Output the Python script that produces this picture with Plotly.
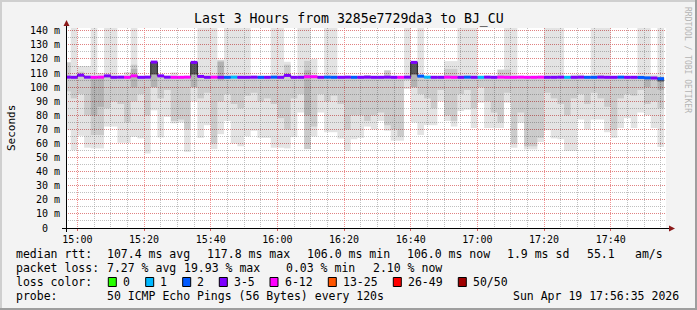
import numpy as np
import pandas as pd
import plotly.graph_objects as go

# ---------------- data ----------------
step_start = "2026-04-19 14:56:00"
view_start = "2026-04-19 14:56:35"
view_end = "2026-04-19 17:56:35"
n_cols = 90

median = [107.1, 107.0, 108.5, 107.1, 107.0, 107.1, 108.0, 107.0, 107.1, 107.0,
          108.0, 107.0, 107.1, 117.8, 108.0, 107.1, 107.0, 107.0, 107.1, 117.6,
          107.6, 107.0, 107.1, 107.0, 107.0, 107.1, 107.0, 107.0, 107.1, 107.0,
          107.0, 107.1, 107.0, 108.3, 107.0, 107.0, 107.4, 107.4, 107.0, 107.1,
          107.0, 107.0, 107.1, 107.0, 107.0, 107.1, 107.0, 107.0, 107.1, 107.0,
          107.0, 107.1, 117.6, 107.8, 107.1, 107.0, 107.0, 107.1, 107.0, 107.0,
          107.1, 107.0, 107.0, 107.1, 107.0, 107.1, 107.0, 107.0, 107.1, 107.0,
          107.0, 107.1, 107.0, 107.0, 107.1, 107.0, 107.0, 107.1, 107.0, 107.0,
          107.1, 107.0, 107.0, 107.1, 107.0, 107.0, 106.9, 106.6, 106.5, 106.0]

loss_class = [3, 3, 3, 3, 4, 4, 3, 3, 3, 4,
              4, 3, 3, 3, 3, 3, 4, 4, 4, 3,
              3, 3, 4, 3, 2, 1, 3, 3, 3, 2,
              3, 2, 3, 3, 3, 3, 4, 4, 3, 2,
              2, 3, 3, 2, 3, 3, 3, 3, 3, 3,
              4, 3, 3, 2, 1, 3, 3, 4, 4, 3,
              2, 3, 1, 3, 3, 4, 4, 4, 4, 4,
              4, 4, 3, 3, 3, 1, 3, 3, 2, 2,
              3, 3, 3, 2, 3, 3, 2, 2, 3, 2]

smoke_hi = [117.7, 145, 115, 115, 145, 110, 145, 145, 108, 110.8,
            145, 108, 108, 118.5, 109, 108, 110.5, 108, 108, 118.3,
            145, 145, 145, 119.5, 145, 145, 145, 145, 108, 108,
            108, 145, 145, 118, 108, 145, 145, 120, 108, 145,
            145, 108, 108, 108, 108, 108.5, 108, 108, 112, 108,
            108, 145, 118.2, 145, 108, 108, 108, 118.5, 118.5, 145,
            145, 145, 108, 108, 108, 112.5, 145, 145, 108, 108,
            108, 108, 145, 145, 145, 108, 109, 109, 108, 145,
            145, 145, 108, 108, 108, 108, 145, 145, 109, 145]

smoke_lo = [69.5, 55.3, 65.5, 57, 56.5, 56.5, 72, 72, 60.5, 60.5,
            64.8, 63.6, 52.9, 83.5, 64.3, 78.9, 74.3, 75, 54, 90,
            64, 73, 56, 66.6, 76, 60, 58, 65, 69, 64,
            64, 57, 57, 56.5, 64.5, 82, 56, 65, 82, 68,
            68, 63.5, 55, 63, 64, 72, 70, 76, 69, 62,
            62, 98.6, 75, 66, 73, 73, 90, 76, 72, 83,
            84, 71, 89, 71, 71, 71, 89, 57, 74.7, 55.8,
            55.8, 61, 69.5, 63.6, 63, 54.9, 54.9, 77, 70, 77,
            77, 68, 64, 71, 78, 71, 82, 80, 71, 57.5]

mid_lo = [97, 92, 95, 80, 66, 66, 85, 90, 88, 75,
          90, 95, 80, 100, 92, 98, 76, 77, 70, 100,
          92, 96, 60, 90, 95, 88, 85, 94, 96, 90,
          92, 88, 78, 70, 92, 95, 56, 72, 95, 90,
          94, 88, 70, 80, 80, 76, 80, 82, 73, 70,
          65, 105, 100, 95, 92, 85, 98, 80, 76, 95,
          98, 85, 100, 90, 82, 75, 96, 60, 82, 58,
          58, 64, 96, 92, 88, 80, 92, 95, 88, 96,
          92, 86, 70, 92, 95, 94, 98, 88, 90, 85]

mid_hi = [117.7, 107.5, 111, 107.5, 107.5, 107.5, 107.5, 107.5, 107.5, 107.5,
          116, 107.5, 107.5, 118, 107.5, 107.5, 107.5, 107.5, 107.5, 118,
          107.5, 107.5, 107.5, 119, 107.5, 107.5, 107.5, 107.5, 107.5, 107.5,
          107.5, 107.5, 107.5, 116, 107.5, 107.5, 118.7, 107.5, 107.5, 107.5,
          107.5, 107.5, 107.5, 107.5, 107.5, 108.5, 107.5, 107.5, 112, 107.5,
          107.5, 107.5, 118, 107.5, 107.5, 107.5, 107.5, 113, 113, 107.5,
          107.5, 107.5, 107.5, 107.5, 107.5, 112.5, 112.5, 107.5, 107.5, 107.5,
          107.5, 107.5, 107.5, 107.5, 107.5, 107.5, 107.5, 107.5, 107.5, 107.5,
          108.5, 107.5, 107.5, 107.5, 107.5, 107.5, 107.5, 107.5, 107.5, 107.5]

core_cols = [4, 5, 10, 13, 19, 23, 36, 52, 87, 89]
core_lo = [80, 86, 100, 100, 100, 105, 80, 100, 100, 98]
core_hi = [107, 107, 113, 117.8, 117.6, 118, 112, 117.6, 107, 107]

peak_cols = [13, 19, 52, 89]
peak_lo = [109, 109, 109, 104]
peak_hi = [117.8, 117.6, 117.6, 106]

loss_labels = ["0", "1", "2", "3-5", "6-12", "13-25", "26-49", "50/50"]
loss_colors = ["#26ff00", "#00b8ff", "#0059ff", "#7e00ff",
               "#ff00ff", "#ff5500", "#ff0000", "#a00000"]

y_ticks = list(range(0, 141, 10))
y_tick_text = ["0\u00a0\u00a0"] + [f"{v} m" for v in y_ticks[1:]]

title_text = "Last 3 Hours from 3285e7729da3 to BJ_CU"
stats_rtt = ["median rtt:", "107.4 ms avg", "117.8 ms max", "106.0 ms min",
             "106.0 ms now", "1.9 ms sd", "55.1", "am/s"]
stats_loss = ["packet loss:", "7.27 % avg", "19.93 % max", "0.03 % min", "2.10 % now"]
probe_text = ["probe:", "50 ICMP Echo Pings (56 Bytes) every 120s", "Sun Apr 19 17:56:35 2026"]

# ---------------- figure ----------------
FONT = "DejaVu Sans Mono"
starts = pd.date_range(step_start, periods=n_cols, freq="2min")
ends = starts + pd.Timedelta(minutes=2)
centers = starts + pd.Timedelta(minutes=1)
W_MS = 120000

fig = go.Figure()


def add_band(xs, lo, hi, color):
    lo = np.asarray(lo, float)
    hi = np.asarray(hi, float)
    fig.add_trace(go.Bar(x=xs, y=hi - lo, base=lo, width=W_MS,
                         marker=dict(color=color, line=dict(width=0)),
                         hoverinfo="skip", showlegend=False))


add_band(centers, smoke_lo, smoke_hi, "rgba(0,0,0,0.11)")
add_band(centers, mid_lo, mid_hi, "rgba(0,0,0,0.10)")
add_band(centers[core_cols], core_lo, core_hi, "rgba(0,0,0,0.12)")
add_band(centers[peak_cols], peak_lo, peak_hi, "rgba(30,30,30,0.6)")

# median step line
step_x = list(starts) + [ends[-1]]
step_y = median + [median[-1]]
fig.add_trace(go.Scatter(x=step_x, y=step_y, mode="lines", line_shape="hv",
                         line=dict(color="#202020", width=1),
                         hoverinfo="skip", showlegend=False))

# loss-coloured median segments (one trace per loss class)
for cls in sorted(set(loss_class)):
    xs, ys = [], []
    for k in range(n_cols):
        if loss_class[k] == cls:
            xs += [starts[k], ends[k], None]
            ys += [median[k], median[k], None]
    fig.add_trace(go.Scatter(x=xs, y=ys, mode="lines",
                             line=dict(color=loss_colors[cls], width=3),
                             connectgaps=False, hoverinfo="skip", showlegend=False))

L, R, T, B = 66, 31, 28, 82
PW, PH = 697 - L - R, 310 - T - B


def px(x):
    return (x - L) / PW


def py(y):
    return (T + PH - y) / PH


fig.update_layout(
    width=697, height=310,
    margin=dict(l=L, r=R, t=T, b=B, pad=0),
    paper_bgcolor="#f3f3f3", plot_bgcolor="#ffffff",
    barmode="overlay", showlegend=False,
    font=dict(family=FONT, size=10, color="#000000"),
)
fig.update_xaxes(
    type="date", range=[view_start, view_end],
    tick0="2026-04-19 15:00:00", dtick=1200000, tickformat="%H:%M",
    showgrid=True, gridcolor="rgba(235,110,110,0.75)", griddash="1px,1px", gridwidth=1,
    minor=dict(dtick=300000, tick0="2026-04-19 15:00:00", showgrid=True,
               gridcolor="rgba(150,150,150,0.6)", griddash="1px,1px", gridwidth=1),
    zeroline=False, showline=False, ticks="outside", ticklen=2, tickcolor="#e06060",
    tickfont=dict(family=FONT, size=10), fixedrange=True,
)
fig.update_yaxes(
    range=[0, 142], tickvals=y_ticks, ticktext=y_tick_text,
    showgrid=True, gridcolor="rgba(235,110,110,0.75)", griddash="1px,1px", gridwidth=1,
    minor=dict(dtick=5, tick0=0, showgrid=True,
               gridcolor="rgba(150,150,150,0.6)", griddash="1px,1px", gridwidth=1),
    zeroline=False, showline=False, ticks="", ticklabelstandoff=5,
    tickfont=dict(family=FONT, size=10), fixedrange=True,
)

shapes = []
# frame
shapes.append(dict(type="line", xref="paper", yref="paper", x0=px(0), x1=px(697), y0=py(1), y1=py(1),
                   line=dict(color="#cfcfcf", width=2)))
shapes.append(dict(type="line", xref="paper", yref="paper", x0=px(1), x1=px(1), y0=py(0), y1=py(310),
                   line=dict(color="#cfcfcf", width=2)))
shapes.append(dict(type="line", xref="paper", yref="paper", x0=px(0), x1=px(697), y0=py(309), y1=py(309),
                   line=dict(color="#9e9e9e", width=2)))
shapes.append(dict(type="line", xref="paper", yref="paper", x0=px(696), x1=px(696), y0=py(0), y1=py(310),
                   line=dict(color="#9e9e9e", width=2)))
# axes lines
shapes.append(dict(type="line", xref="paper", yref="paper", x0=px(62), x1=px(670), y0=py(228.5), y1=py(228.5),
                   line=dict(color="#000000", width=1)))
shapes.append(dict(type="line", xref="paper", yref="paper", x0=px(66.5), x1=px(66.5), y0=py(232), y1=py(24),
                   line=dict(color="#000000", width=1)))
# arrows
shapes.append(dict(type="path", xref="paper", yref="paper",
                   path=f"M {px(669)} {py(225.5)} L {px(675)} {py(228.5)} L {px(669)} {py(231.5)} Z",
                   fillcolor="#8b1a1a", line=dict(width=0)))
shapes.append(dict(type="path", xref="paper", yref="paper",
                   path=f"M {px(63.5)} {py(26)} L {px(66.5)} {py(20)} L {px(69.5)} {py(26)} Z",
                   fillcolor="#8b1a1a", line=dict(width=0)))

annotations = []


def text(s, x, y, size=11.5, color="#000000", anchor="left", angle=0):
    annotations.append(dict(text=s, x=px(x), y=py(y), xref="paper", yref="paper",
                            xanchor=anchor, yanchor="middle", showarrow=False,
                            textangle=angle, borderpad=0,
                            font=dict(family=FONT, size=size, color=color)))


text(title_text, 348.5, 19.3, size=13.2, anchor="center")
text("Seconds", 11, 128, size=11, anchor="center", angle=-90)
text("RRDTOOL / TOBI OETIKER", 688, 60, size=8, color="#b4b4b4", anchor="center", angle=90)

for s, x in zip(stats_rtt, [16, 107.3, 207.3, 307.3, 407.3, 506.7, 586.7, 635]):
    text(s, x - 1, 254.3)
for s, x in zip(stats_loss, [16, 107.3, 184.3, 286, 372.7]):
    text(s, x - 1, 268.3)
text("loss color:", 15, 282.3)
box_x = [108.3, 145.7, 182.7, 219.3, 270, 328.3, 393.3, 458.3]
lab_x = [123.3, 160, 197.3, 234, 285, 343.3, 408.3, 473.3]
for lab, col, bx, lx in zip(loss_labels, loss_colors, box_x, lab_x):
    shapes.append(dict(type="rect", xref="paper", yref="paper",
                       x0=px(bx), x1=px(bx + 8), y0=py(277.5), y1=py(286.5),
                       fillcolor=col, line=dict(color="#000000", width=1)))
    text(lab, lx - 1, 282.3)
for s, x in zip(probe_text, [16, 107.3, 513.3]):
    text(s, x - 1, 296.3)

fig.update_layout(shapes=shapes, annotations=annotations)
fig.write_html("out.html")
